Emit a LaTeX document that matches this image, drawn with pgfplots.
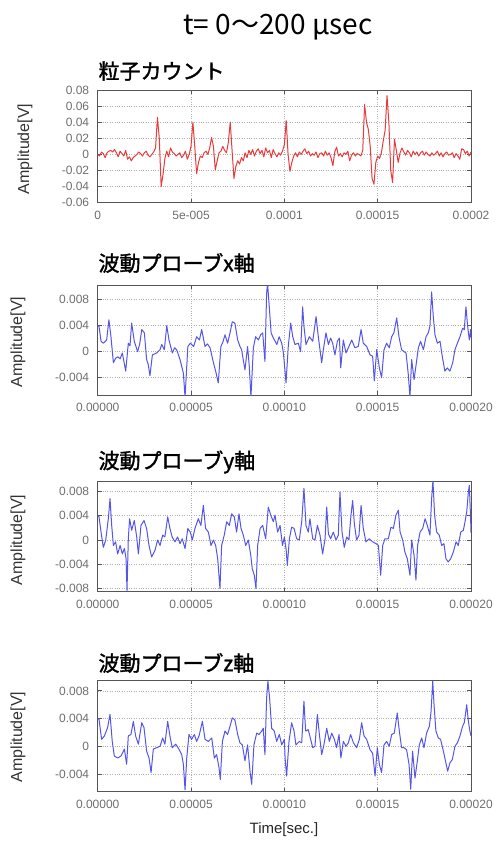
\documentclass[border=0pt]{standalone}
\usepackage{pgfplots}
\pgfplotsset{compat=1.18}
\usepackage{fontspec}
\setmainfont{Liberation Sans}
\newfontfamily\jp{Noto Sans CJK JP}
\newfontfamily\jpb{Noto Sans CJK JP}[FakeBold=1.6]
\definecolor{redline}{RGB}{232,60,60}
\definecolor{blueline}{RGB}{85,85,232}
\definecolor{ticktxt}{RGB}{110,110,110}
\definecolor{frame}{RGB}{85,85,85}

\pgfplotstableread{
t v
0 0.000
1 -0.002
2 0.003
3 0.001
4 -0.004
5 0.002
6 0.004
7 0.005
8 0.003
9 0.006
10 0.002
11 -0.003
12 0.004
13 0.001
14 -0.002
15 0.005
16 -0.006
17 -0.003
18 -0.008
19 -0.004
20 -0.002
21 0.000
22 0.003
23 0.001
24 -0.002
25 0.002
26 0.004
27 -0.001
28 -0.003
29 0.000
30 0.003
31 0.008
32 0.046
33 0.020
34 -0.040
35 -0.025
36 -0.005
37 0.004
38 -0.003
39 0.008
40 0.003
41 0.001
42 -0.002
43 0.000
44 0.002
45 -0.004
46 -0.001
47 0.004
48 -0.006
49 0.000
50 0.010
51 0.040
52 0.010
53 -0.024
54 -0.010
55 -0.002
56 -0.004
57 0.002
58 0.004
59 0.000
60 0.008
61 0.021
62 0.010
63 -0.019
64 -0.008
65 0.002
66 0.004
67 0.010
68 0.005
69 0.002
70 0.015
71 0.040
72 0.005
73 -0.030
74 -0.015
75 -0.008
76 -0.012
77 -0.004
78 -0.008
79 0.002
80 -0.004
81 0.005
82 0.000
83 0.006
84 -0.002
85 0.004
86 0.007
87 0.001
88 0.005
89 -0.003
90 0.008
91 0.002
92 0.005
93 -0.004
94 0.006
95 0.001
96 -0.003
97 0.002
98 -0.001
99 0.004
100 0.012
101 0.042
102 0.000
103 -0.021
104 -0.010
105 -0.002
106 0.002
107 -0.003
108 0.003
109 0.000
110 0.004
111 0.007
112 0.001
113 0.004
114 -0.002
115 0.001
116 -0.001
117 0.003
118 -0.004
119 0.001
120 0.002
121 -0.002
122 0.004
123 -0.001
124 0.002
125 -0.004
126 -0.014
127 0.003
128 0.009
129 -0.002
130 0.001
131 -0.003
132 0.002
133 0.000
134 0.004
135 -0.008
136 -0.001
137 0.002
138 -0.002
139 0.001
140 0.000
141 -0.002
142 0.005
143 0.062
144 0.040
145 0.031
146 0.010
147 -0.030
148 -0.037
149 -0.010
150 -0.002
151 -0.005
152 0.002
153 0.017
154 0.030
155 0.073
156 0.040
157 -0.020
158 -0.035
159 0.019
160 0.005
161 -0.010
162 0.002
163 0.008
164 0.003
165 -0.001
166 0.005
167 0.002
168 -0.003
169 0.004
170 0.000
171 0.003
172 -0.002
173 0.002
174 0.004
175 -0.001
176 0.003
177 0.000
178 -0.002
179 0.002
180 -0.001
181 0.001
182 0.004
183 -0.002
184 0.002
185 -0.003
186 0.001
187 0.003
188 -0.001
189 0.000
190 0.002
191 -0.004
192 0.001
193 -0.002
194 -0.006
195 0.007
196 0.006
197 0.001
198 0.004
199 -0.002
200 0.003
}\particle

\pgfplotstableread{
t v
0 0.0040
0.7 0.0039
1.8 0.0016
3 0.0013
4.8 0.0018
6 0.0049
7.1 0.0023
8.4 -0.0017
9.6 -0.0010
10.8 -0.0008
12 -0.0011
13.2 -0.0002
15 -0.0030
16.4 0.0013
17.3 0.0009
18.2 0.0044
19.6 0.0016
21.4 0.0000
22.5 0.0012
23.6 0.0034
25 0.0029
26.2 -0.0012
27.1 -0.0020
28 -0.0037
29.3 -0.0005
31.6 -0.0002
33.4 0.0003
34.3 0.0011
35.7 0.0003
37 0.0040
38.2 0.0018
40 -0.0002
41.2 0.0006
42.3 0.0003
44.1 -0.0012
45.9 -0.0033
46.8 -0.0070
48.3 0.0008
49.6 0.0013
51.4 0.0008
53 0.0023
54.5 0.0018
55.7 0.0034
57.5 0.0008
58.8 0.0012
60.2 0.0006
62 -0.0017
63.2 -0.0030
64.6 -0.0048
66 0.0008
67.1 0.0015
68.2 0.0026
69.6 0.0013
70.9 0.0029
72.1 0.0046
73.5 0.0044
75 0.0018
76.2 0.0008
77.1 0.0003
78.9 -0.0028
80.3 0.0008
81.2 -0.0022
82.1 -0.0070
83.4 0.0006
84.6 0.0023
86.1 0.0018
87.3 0.0026
88.4 0.0029
89.6 -0.0015
90.5 0.0090
91 0.0105
91.8 0.0074
92.9 0.0029
94.1 0.0021
96 0.0011
97.2 0.0023
98.6 0.0013
99.5 -0.0002
100.9 -0.0048
102.1 0.0008
103.4 0.0044
104.5 0.0023
105.7 0.0011
107.5 0.0013
108.7 0.0000
109.8 0.0069
110.5 0.0039
111.6 0.0011
113.4 0.0023
115.2 0.0016
117 0.0054
118.2 0.0023
120 -0.0017
120.9 0.0003
122.3 0.0029
123.6 0.0011
124.8 0.0021
125.9 0.0013
127.1 -0.0005
128.4 0.0016
129.5 0.0021
130.2 -0.0025
131.6 0.0018
133 -0.0002
134.3 0.0006
136.1 0.0018
137.8 0.0006
139.6 0.0008
141.1 0.0034
142.3 0.0013
144.1 0.0008
145.9 -0.0005
147.3 -0.0007
148.2 -0.0045
149.5 0.0003
150.9 -0.0025
152.1 -0.0040
153.4 0.0003
154.8 0.0013
156.2 0.0006
157.5 0.0023
158.7 0.0029
160.2 0.0052
161.4 0.0023
162.8 0.0003
164.1 0.0000
165.2 -0.0002
166.4 -0.0035
167.3 -0.0070
168.2 -0.0012
169.5 -0.0043
170.5 -0.0022
171.8 0.0006
173 0.0016
174.5 0.0003
175.9 0.0023
177.1 0.0029
178 0.0039
178.9 0.0092
179.8 0.0054
180.7 0.0026
182 0.0013
183.4 0.0016
184.6 -0.0007
186 -0.0030
187.3 -0.0025
188.7 -0.0030
190.2 -0.0017
191.4 0.0003
192.7 0.0013
194.1 0.0023
195.5 0.0036
196.4 0.0034
197.3 0.0069
198.2 0.0039
199.1 0.0018
199.8 0.0034
200 0.0022
}\probex

\pgfplotstableread{
t v
0 0.0040
0.7 0.0038
1.8 0.0013
3 -0.0012
4.3 0.0000
5.7 0.0035
6.6 0.0068
7.5 0.0024
8.4 -0.0009
9.6 -0.0003
10.7 -0.0023
12 -0.0009
13.2 -0.0023
14.3 -0.0014
15.2 -0.0031
15.7 -0.0083
16.4 0.0002
17.1 0.0035
18.2 0.0016
19.6 0.0032
20.9 0.0005
21.8 -0.0023
23.2 0.0024
24.8 0.0032
26.2 0.0019
27.5 -0.0009
28.9 -0.0028
30.7 -0.0017
32.1 0.0000
33.4 -0.0009
34.8 0.0008
36 0.0005
37.5 0.0038
38.7 0.0019
39.9 0.0005
41.4 -0.0003
42.8 0.0005
44.1 -0.0006
45.3 0.0002
46.8 -0.0014
48.3 0.0019
49.6 0.0013
50.7 0.0000
52.1 0.0019
53.9 0.0035
55.3 0.0024
56.6 0.0057
57.8 0.0019
59.3 0.0013
60.7 -0.0009
62 0.0000
63.2 -0.0009
64.3 -0.0031
65.5 -0.0080
66.4 -0.0009
67.8 0.0008
69.1 0.0030
70.5 0.0024
71.8 0.0043
73.2 0.0038
74.4 0.0013
75.7 0.0043
76.8 0.0019
78 0.0008
79.3 -0.0009
80.7 0.0000
82 -0.0025
82.8 -0.0047
83.9 -0.0058
84.8 -0.0080
85.7 -0.0009
87 0.0019
88.4 0.0024
90 0.0002
91.4 0.0054
92.7 0.0041
94.1 0.0030
95 0.0041
96.4 0.0013
97.7 0.0024
99 -0.0009
100 0.0005
101 -0.0017
101.6 -0.0042
102.7 0.0002
103.9 0.0021
105.2 0.0019
106.6 0.0002
108 0.0000
109.3 0.0030
110.5 0.0085
111.6 0.0024
112.8 0.0013
113.7 0.0035
115.2 0.0002
116.4 0.0000
117.7 0.0024
119.1 0.0008
120.5 -0.0023
121.8 0.0002
122.7 0.0054
123.6 0.0010
124.8 0.0002
126.2 0.0013
127.7 0.0000
128.9 0.0008
129.8 0.0079
130.9 0.0013
132.1 -0.0012
133.4 0.0005
134.6 0.0000
135.7 0.0041
136.6 0.0065
137.5 0.0027
138.7 0.0000
140 0.0008
141.1 0.0057
142.3 0.0019
143.7 -0.0003
145.5 0.0002
147.3 -0.0003
149.1 -0.0006
150.4 -0.0009
151.6 -0.0058
152.7 -0.0009
153.9 0.0002
155.7 0.0002
157.1 0.0021
158.4 0.0019
159.8 0.0041
161.1 0.0049
162 0.0013
163.4 0.0000
164.6 -0.0020
165.9 -0.0031
167.3 -0.0058
168.2 0.0000
169.5 -0.0025
170.5 -0.0066
171.4 -0.0009
172.7 0.0013
174.1 0.0019
175.4 0.0035
176.6 0.0024
178 0.0008
178.9 0.0068
179.6 0.0098
180.5 0.0041
181.6 0.0013
183 0.0008
184.3 -0.0009
185.5 -0.0006
186.6 -0.0031
187.8 -0.0036
189.1 -0.0031
190.5 -0.0020
192 -0.0003
193.2 -0.0009
194.5 0.0013
195.9 0.0016
196.8 0.0030
197.7 0.0046
198.6 0.0079
199.1 0.0090
199.8 0.0035
200 0.0012
}\probey

\pgfplotstableread{
t v
0 0.0040
0.7 0.0039
2.1 0.0010
3.6 0.0015
5.3 0.0027
6.6 0.0046
7.8 0.0007
8.9 -0.0014
10.7 -0.0017
12.5 -0.0014
14.3 -0.0004
15.5 -0.0026
16.4 0.0015
17.8 0.0017
19.1 0.0036
20.3 0.0015
21.8 0.0003
23.6 0.0034
24.8 0.0027
26.2 -0.0007
27.5 -0.0017
28.6 -0.0038
29.8 -0.0004
31.6 -0.0002
33.4 0.0000
34.8 0.0012
36 0.0003
37.5 0.0036
38.7 0.0015
39.9 -0.0002
41.8 0.0003
43.5 -0.0004
45 -0.0012
45.9 -0.0026
46.8 -0.0063
47.7 -0.0017
48.9 0.0017
50.3 0.0010
51.8 0.0017
53 0.0007
54.3 0.0015
56.1 0.0036
57.5 0.0010
59.3 0.0007
61.1 0.0012
62.5 -0.0017
63.7 -0.0012
65 -0.0031
65.7 -0.0048
66.8 0.0007
68.2 0.0022
69.6 0.0017
70.9 0.0029
72.1 0.0041
73.5 0.0038
75 0.0017
76.2 0.0005
77.5 0.0002
78.9 -0.0021
80.3 0.0002
81.6 -0.0036
82.5 -0.0055
83.7 0.0002
85.2 0.0019
86.4 0.0017
87.9 0.0022
88.7 0.0026
89.6 -0.0012
90.5 0.0070
91.2 0.0094
92.1 0.0070
93.2 0.0026
94.6 0.0022
95.9 0.0007
97.3 0.0017
98.6 0.0002
100 0.0010
100.4 -0.0017
101.2 -0.0043
102.5 0.0007
103.9 0.0034
105.2 0.0022
106.2 0.0002
108 0.0007
109.3 0.0005
110.5 0.0065
111.4 0.0022
112.8 0.0024
114.1 0.0010
115.2 -0.0002
116.4 0.0000
117.7 0.0046
118.7 0.0019
120 -0.0012
121.2 0.0002
122.7 0.0026
124.1 0.0007
125.4 0.0019
126.8 0.0010
128 -0.0002
129.3 0.0017
130.3 -0.0017
131.6 0.0007
133 0.0000
134.3 0.0005
135.5 0.0017
137 0.0005
138.7 -0.0002
140.2 0.0010
141.4 0.0034
142.7 0.0015
144.1 0.0010
145.9 -0.0005
147.3 -0.0010
148.6 -0.0043
149.8 -0.0002
150.9 -0.0026
152.1 -0.0038
153.4 0.0002
154.8 0.0007
156.2 0.0000
157.5 0.0017
158.9 0.0019
160.5 0.0048
161.6 0.0022
162.8 -0.0002
164.1 -0.0002
165.5 -0.0005
166.8 -0.0026
167.7 -0.0062
168.7 -0.0007
170 -0.0046
171.2 -0.0022
172.3 0.0002
173.6 0.0012
174.8 -0.0002
176.2 0.0019
177.7 0.0029
178.6 0.0050
179.5 0.0094
180.2 0.0060
181.2 0.0022
182.5 0.0012
183.7 0.0010
185.2 -0.0007
186.4 -0.0022
187.5 -0.0036
188.7 -0.0024
190 -0.0019
191.4 0.0000
192.7 0.0005
194.1 0.0015
195.5 0.0029
196.4 0.0034
197.7 0.0060
198.6 0.0036
199.4 0.0022
200 0.0015
}\probez

\pgfplotsset{
  panel/.style={
    scale only axis, width=373.3pt,
    anchor=north west,
    xmin=0, xmax=200,
    xtick={0,50,100,150,200},
    scaled x ticks=false, scaled y ticks=false,
    grid=major,
    major grid style={dotted, black!30, line width=0.7pt},
    axis line style={draw=frame, line width=0.9pt},
    tick style={draw=frame, line width=0.9pt},
    major tick length=4pt,
    tick label style={font=\fontsize{12}{12}\selectfont, text=ticktxt},
    yticklabel style={xshift=-5pt},
    xticklabel style={yshift=-5pt},
    clip=true,
  },
  redp/.style={draw=redline, line width=1pt, mark=none, line join=round},
  bluep/.style={draw=blueline, line width=1pt, mark=none, line join=round},
}
\tikzset{
  ptitle/.style={font=\jpb\fontsize{21}{21}\selectfont, anchor=west},
  ylab/.style={rotate=90, font=\fontsize{16}{16}\selectfont, text=black!80},
}

\begin{document}
\begin{tikzpicture}
\useasboundingbox (0,0) rectangle (497pt,-841pt);

% main title
\node[font=\jp\fontsize{28}{28}\selectfont, anchor=center] at (278pt,-27pt) {t= 0〜200 μsec};

% panel 1
\node[ptitle] at (95pt,-71pt) {粒子カウント};
\begin{axis}[panel, at={(97.7pt,-90pt)}, height=112.7pt,
  ymin=-0.06, ymax=0.08,
  ytick={-0.06,-0.04,-0.02,0,0.02,0.04,0.06,0.08},
  yticklabels={-0.06,-0.04,-0.02,0,0.02,0.04,0.06,0.08},
  xticklabels={0,5e-005,0.0001,0.00015,0.0002}]
\addplot[redp] table[x=t,y=v] {\particle};
\end{axis}
\node[ylab] at (25pt,-149pt) {Amplitude[V]};

% panel 2
\node[ptitle] at (95pt,-263pt) {波動プローブx軸};
\begin{axis}[panel, at={(97.7pt,-285pt)}, height=110pt,
  ymin=-0.00667, ymax=0.01026,
  ytick={-0.004,0,0.004,0.008},
  yticklabels={-0.004,0,0.004,0.008},
  xticklabels={0.00000,0.00005,0.00010,0.00015,0.00020}]
\addplot[bluep] table[x=t,y=v] {\probex};
\end{axis}
\node[ylab] at (18pt,-342pt) {Amplitude[V]};

% panel 3
\node[ptitle] at (95pt,-462pt) {波動プローブy軸};
\begin{axis}[panel, at={(97.7pt,-481pt)}, height=110.7pt,
  ymin=-0.0085, ymax=0.0097,
  ytick={-0.008,-0.004,0,0.004,0.008},
  yticklabels={-0.008,-0.004,0,0.004,0.008},
  xticklabels={0.00000,0.00005,0.00010,0.00015,0.00020}]
\addplot[bluep] table[x=t,y=v] {\probey};
\end{axis}
\node[ylab] at (18pt,-540pt) {Amplitude[V]};

% panel 4
\node[ptitle] at (95pt,-663pt) {波動プローブz軸};
\begin{axis}[panel, at={(97.7pt,-680pt)}, height=111.7pt,
  ymin=-0.00656, ymax=0.00957,
  ytick={-0.004,0,0.004,0.008},
  yticklabels={-0.004,0,0.004,0.008},
  xticklabels={0.00000,0.00005,0.00010,0.00015,0.00020}]
\addplot[bluep] table[x=t,y=v] {\probez};
\end{axis}
\node[ylab] at (18pt,-737pt) {Amplitude[V]};
\node[font=\fontsize{15}{15}\selectfont, text=black!85] at (284pt,-830pt) {Time[sec.]};
\end{tikzpicture}
\end{document}
